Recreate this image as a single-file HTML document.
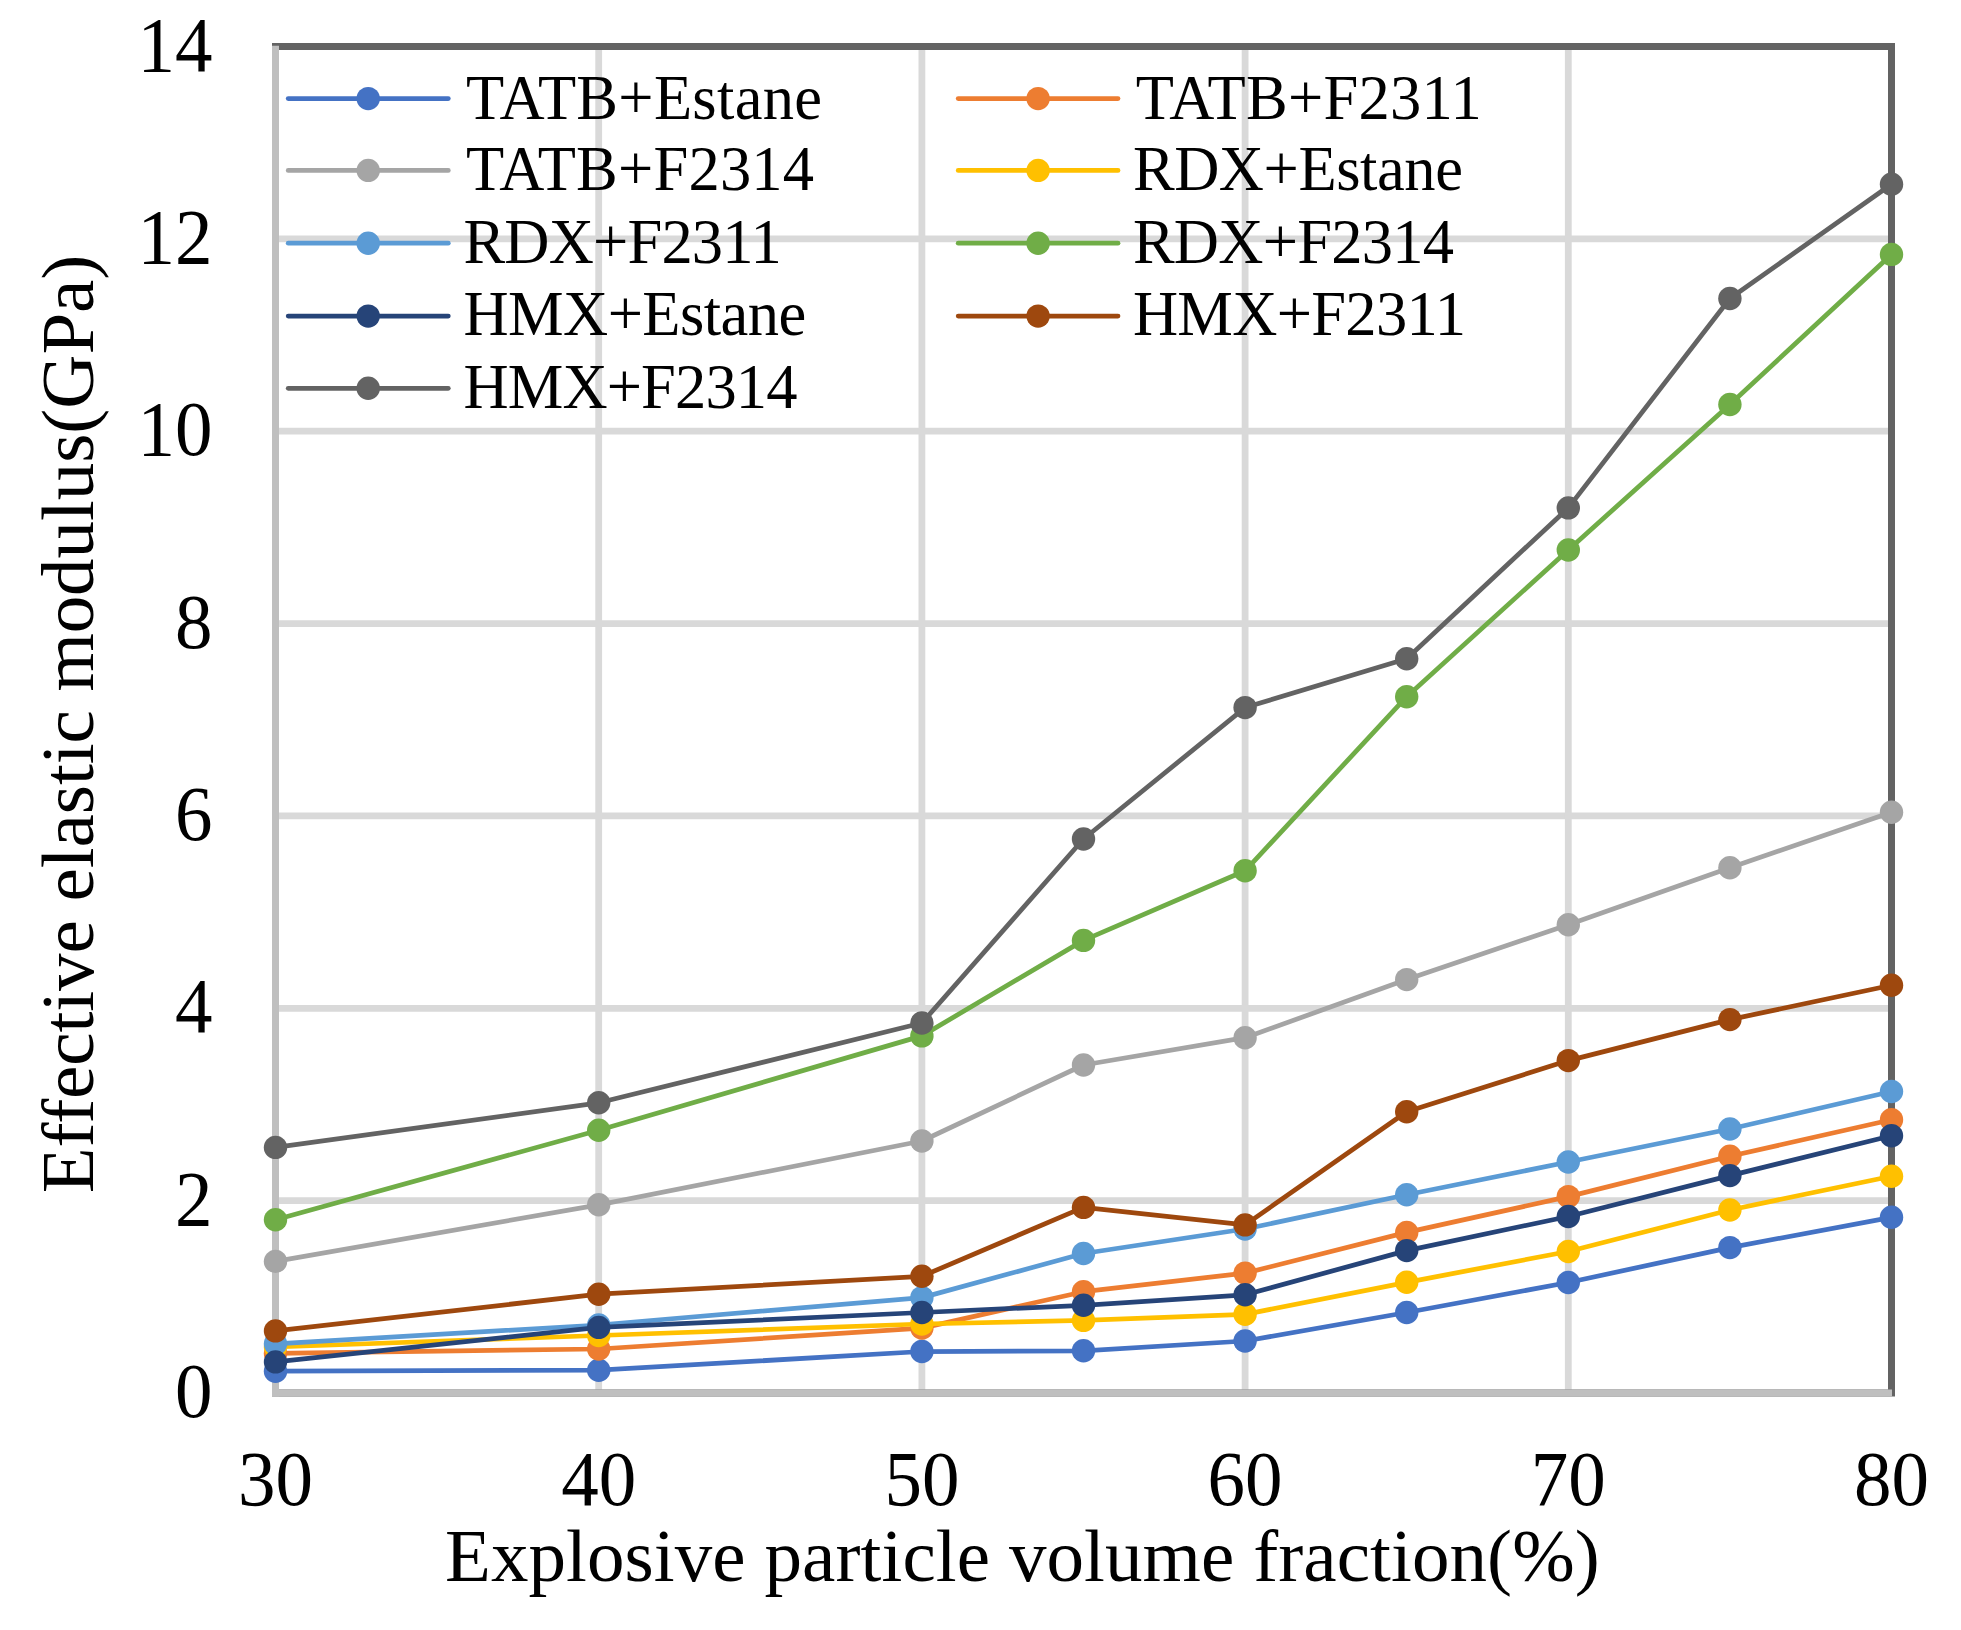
<!DOCTYPE html><html><head><meta charset="utf-8"><style>html,body{margin:0;padding:0;background:#fff;overflow:hidden}svg{display:block}text{font-family:"Liberation Serif","Times New Roman",serif;fill:#000}</style></head><body>
<svg width="1961" height="1630" viewBox="0 0 1961 1630">
<rect x="0" y="0" width="1961" height="1630" fill="#fff"/>
<line x1="275.5" y1="1200.6" x2="1891.5" y2="1200.6" stroke="#d9d9d9" stroke-width="6.8"/>
<line x1="275.5" y1="1008.3" x2="1891.5" y2="1008.3" stroke="#d9d9d9" stroke-width="6.8"/>
<line x1="275.5" y1="815.9" x2="1891.5" y2="815.9" stroke="#d9d9d9" stroke-width="6.8"/>
<line x1="275.5" y1="623.6" x2="1891.5" y2="623.6" stroke="#d9d9d9" stroke-width="6.8"/>
<line x1="275.5" y1="431.2" x2="1891.5" y2="431.2" stroke="#d9d9d9" stroke-width="6.8"/>
<line x1="275.5" y1="238.9" x2="1891.5" y2="238.9" stroke="#d9d9d9" stroke-width="6.8"/>
<line x1="598.7" y1="46.5" x2="598.7" y2="1393.0" stroke="#d9d9d9" stroke-width="6.8"/>
<line x1="921.9" y1="46.5" x2="921.9" y2="1393.0" stroke="#d9d9d9" stroke-width="6.8"/>
<line x1="1245.1" y1="46.5" x2="1245.1" y2="1393.0" stroke="#d9d9d9" stroke-width="6.8"/>
<line x1="1568.3" y1="46.5" x2="1568.3" y2="1393.0" stroke="#d9d9d9" stroke-width="6.8"/>
<rect x="275.5" y="46.5" width="1616.0" height="1346.5" fill="none" stroke="#636363" stroke-width="7"/>
<line x1="275.5" y1="45.7" x2="275.5" y2="1396.5" stroke="#bfbfbf" stroke-width="7.0"/>
<line x1="272.0" y1="1393.0" x2="1892.0" y2="1393.0" stroke="#bfbfbf" stroke-width="7.0"/>
<polyline points="275.5,1371.2 598.7,1370.2 921.9,1351.5 1083.5,1350.8 1245.1,1341.0 1406.7,1312.5 1568.3,1282.5 1729.9,1247.6 1891.5,1217.3" fill="none" stroke="#4472C4" stroke-width="4.75" stroke-linejoin="round" stroke-linecap="round"/>
<circle cx="275.5" cy="1371.2" r="11.7" fill="#4472C4"/>
<circle cx="598.7" cy="1370.2" r="11.7" fill="#4472C4"/>
<circle cx="921.9" cy="1351.5" r="11.7" fill="#4472C4"/>
<circle cx="1083.5" cy="1350.8" r="11.7" fill="#4472C4"/>
<circle cx="1245.1" cy="1341.0" r="11.7" fill="#4472C4"/>
<circle cx="1406.7" cy="1312.5" r="11.7" fill="#4472C4"/>
<circle cx="1568.3" cy="1282.5" r="11.7" fill="#4472C4"/>
<circle cx="1729.9" cy="1247.6" r="11.7" fill="#4472C4"/>
<circle cx="1891.5" cy="1217.3" r="11.7" fill="#4472C4"/>
<polyline points="275.5,1353.4 598.7,1349.0 921.9,1328.1 1083.5,1291.7 1245.1,1273.1 1406.7,1232.4 1568.3,1196.6 1729.9,1156.3 1891.5,1119.8" fill="none" stroke="#ED7D31" stroke-width="4.75" stroke-linejoin="round" stroke-linecap="round"/>
<circle cx="275.5" cy="1353.4" r="11.7" fill="#ED7D31"/>
<circle cx="598.7" cy="1349.0" r="11.7" fill="#ED7D31"/>
<circle cx="921.9" cy="1328.1" r="11.7" fill="#ED7D31"/>
<circle cx="1083.5" cy="1291.7" r="11.7" fill="#ED7D31"/>
<circle cx="1245.1" cy="1273.1" r="11.7" fill="#ED7D31"/>
<circle cx="1406.7" cy="1232.4" r="11.7" fill="#ED7D31"/>
<circle cx="1568.3" cy="1196.6" r="11.7" fill="#ED7D31"/>
<circle cx="1729.9" cy="1156.3" r="11.7" fill="#ED7D31"/>
<circle cx="1891.5" cy="1119.8" r="11.7" fill="#ED7D31"/>
<polyline points="275.5,1261.4 598.7,1204.8 921.9,1141.0 1083.5,1065.0 1245.1,1037.7 1406.7,979.6 1568.3,924.7 1729.9,867.8 1891.5,812.3" fill="none" stroke="#A5A5A5" stroke-width="4.75" stroke-linejoin="round" stroke-linecap="round"/>
<circle cx="275.5" cy="1261.4" r="11.7" fill="#A5A5A5"/>
<circle cx="598.7" cy="1204.8" r="11.7" fill="#A5A5A5"/>
<circle cx="921.9" cy="1141.0" r="11.7" fill="#A5A5A5"/>
<circle cx="1083.5" cy="1065.0" r="11.7" fill="#A5A5A5"/>
<circle cx="1245.1" cy="1037.7" r="11.7" fill="#A5A5A5"/>
<circle cx="1406.7" cy="979.6" r="11.7" fill="#A5A5A5"/>
<circle cx="1568.3" cy="924.7" r="11.7" fill="#A5A5A5"/>
<circle cx="1729.9" cy="867.8" r="11.7" fill="#A5A5A5"/>
<circle cx="1891.5" cy="812.3" r="11.7" fill="#A5A5A5"/>
<polyline points="275.5,1347.0 598.7,1335.5 921.9,1324.0 1083.5,1320.4 1245.1,1314.3 1406.7,1282.3 1568.3,1251.5 1729.9,1210.0 1891.5,1176.2" fill="none" stroke="#FFC000" stroke-width="4.75" stroke-linejoin="round" stroke-linecap="round"/>
<circle cx="275.5" cy="1347.0" r="11.7" fill="#FFC000"/>
<circle cx="598.7" cy="1335.5" r="11.7" fill="#FFC000"/>
<circle cx="921.9" cy="1324.0" r="11.7" fill="#FFC000"/>
<circle cx="1083.5" cy="1320.4" r="11.7" fill="#FFC000"/>
<circle cx="1245.1" cy="1314.3" r="11.7" fill="#FFC000"/>
<circle cx="1406.7" cy="1282.3" r="11.7" fill="#FFC000"/>
<circle cx="1568.3" cy="1251.5" r="11.7" fill="#FFC000"/>
<circle cx="1729.9" cy="1210.0" r="11.7" fill="#FFC000"/>
<circle cx="1891.5" cy="1176.2" r="11.7" fill="#FFC000"/>
<polyline points="275.5,1343.8 598.7,1325.0 921.9,1297.6 1083.5,1253.5 1245.1,1229.0 1406.7,1194.8 1568.3,1162.0 1729.9,1129.0 1891.5,1091.5" fill="none" stroke="#5B9BD5" stroke-width="4.75" stroke-linejoin="round" stroke-linecap="round"/>
<circle cx="275.5" cy="1343.8" r="11.7" fill="#5B9BD5"/>
<circle cx="598.7" cy="1325.0" r="11.7" fill="#5B9BD5"/>
<circle cx="921.9" cy="1297.6" r="11.7" fill="#5B9BD5"/>
<circle cx="1083.5" cy="1253.5" r="11.7" fill="#5B9BD5"/>
<circle cx="1245.1" cy="1229.0" r="11.7" fill="#5B9BD5"/>
<circle cx="1406.7" cy="1194.8" r="11.7" fill="#5B9BD5"/>
<circle cx="1568.3" cy="1162.0" r="11.7" fill="#5B9BD5"/>
<circle cx="1729.9" cy="1129.0" r="11.7" fill="#5B9BD5"/>
<circle cx="1891.5" cy="1091.5" r="11.7" fill="#5B9BD5"/>
<polyline points="275.5,1219.8 598.7,1130.2 921.9,1035.9 1083.5,940.4 1245.1,870.8 1406.7,696.7 1568.3,550.0 1729.9,404.5 1891.5,254.4" fill="none" stroke="#70AD47" stroke-width="4.75" stroke-linejoin="round" stroke-linecap="round"/>
<circle cx="275.5" cy="1219.8" r="11.7" fill="#70AD47"/>
<circle cx="598.7" cy="1130.2" r="11.7" fill="#70AD47"/>
<circle cx="921.9" cy="1035.9" r="11.7" fill="#70AD47"/>
<circle cx="1083.5" cy="940.4" r="11.7" fill="#70AD47"/>
<circle cx="1245.1" cy="870.8" r="11.7" fill="#70AD47"/>
<circle cx="1406.7" cy="696.7" r="11.7" fill="#70AD47"/>
<circle cx="1568.3" cy="550.0" r="11.7" fill="#70AD47"/>
<circle cx="1729.9" cy="404.5" r="11.7" fill="#70AD47"/>
<circle cx="1891.5" cy="254.4" r="11.7" fill="#70AD47"/>
<polyline points="275.5,1361.9 598.7,1327.4 921.9,1312.5 1083.5,1305.3 1245.1,1294.8 1406.7,1250.6 1568.3,1216.5 1729.9,1175.6 1891.5,1135.7" fill="none" stroke="#264478" stroke-width="4.75" stroke-linejoin="round" stroke-linecap="round"/>
<circle cx="275.5" cy="1361.9" r="11.7" fill="#264478"/>
<circle cx="598.7" cy="1327.4" r="11.7" fill="#264478"/>
<circle cx="921.9" cy="1312.5" r="11.7" fill="#264478"/>
<circle cx="1083.5" cy="1305.3" r="11.7" fill="#264478"/>
<circle cx="1245.1" cy="1294.8" r="11.7" fill="#264478"/>
<circle cx="1406.7" cy="1250.6" r="11.7" fill="#264478"/>
<circle cx="1568.3" cy="1216.5" r="11.7" fill="#264478"/>
<circle cx="1729.9" cy="1175.6" r="11.7" fill="#264478"/>
<circle cx="1891.5" cy="1135.7" r="11.7" fill="#264478"/>
<polyline points="275.5,1330.9 598.7,1294.2 921.9,1276.3 1083.5,1207.4 1245.1,1224.9 1406.7,1111.7 1568.3,1060.6 1729.9,1019.6 1891.5,985.3" fill="none" stroke="#9E480E" stroke-width="4.75" stroke-linejoin="round" stroke-linecap="round"/>
<circle cx="275.5" cy="1330.9" r="11.7" fill="#9E480E"/>
<circle cx="598.7" cy="1294.2" r="11.7" fill="#9E480E"/>
<circle cx="921.9" cy="1276.3" r="11.7" fill="#9E480E"/>
<circle cx="1083.5" cy="1207.4" r="11.7" fill="#9E480E"/>
<circle cx="1245.1" cy="1224.9" r="11.7" fill="#9E480E"/>
<circle cx="1406.7" cy="1111.7" r="11.7" fill="#9E480E"/>
<circle cx="1568.3" cy="1060.6" r="11.7" fill="#9E480E"/>
<circle cx="1729.9" cy="1019.6" r="11.7" fill="#9E480E"/>
<circle cx="1891.5" cy="985.3" r="11.7" fill="#9E480E"/>
<polyline points="275.5,1147.4 598.7,1102.8 921.9,1023.0 1083.5,839.0 1245.1,707.6 1406.7,658.7 1568.3,507.9 1729.9,298.5 1891.5,184.2" fill="none" stroke="#636363" stroke-width="4.75" stroke-linejoin="round" stroke-linecap="round"/>
<circle cx="275.5" cy="1147.4" r="11.7" fill="#636363"/>
<circle cx="598.7" cy="1102.8" r="11.7" fill="#636363"/>
<circle cx="921.9" cy="1023.0" r="11.7" fill="#636363"/>
<circle cx="1083.5" cy="839.0" r="11.7" fill="#636363"/>
<circle cx="1245.1" cy="707.6" r="11.7" fill="#636363"/>
<circle cx="1406.7" cy="658.7" r="11.7" fill="#636363"/>
<circle cx="1568.3" cy="507.9" r="11.7" fill="#636363"/>
<circle cx="1729.9" cy="298.5" r="11.7" fill="#636363"/>
<circle cx="1891.5" cy="184.2" r="11.7" fill="#636363"/>
<text transform="translate(212.5,1417.0) scale(1,1.03)" font-size="75" text-anchor="end">0</text>
<text transform="translate(212.5,1224.6) scale(1,1.03)" font-size="75" text-anchor="end">2</text>
<text transform="translate(212.5,1032.3) scale(1,1.03)" font-size="75" text-anchor="end">4</text>
<text transform="translate(212.5,839.9) scale(1,1.03)" font-size="75" text-anchor="end">6</text>
<text transform="translate(212.5,647.6) scale(1,1.03)" font-size="75" text-anchor="end">8</text>
<text transform="translate(212.5,455.2) scale(1,1.03)" font-size="75" text-anchor="end">10</text>
<text transform="translate(212.5,262.9) scale(1,1.03)" font-size="75" text-anchor="end">12</text>
<text transform="translate(212.5,70.5) scale(1,1.03)" font-size="75" text-anchor="end">14</text>
<text transform="translate(275.5,1504.8) scale(1,1.03)" font-size="75" text-anchor="middle">30</text>
<text transform="translate(598.7,1504.8) scale(1,1.03)" font-size="75" text-anchor="middle">40</text>
<text transform="translate(921.9,1504.8) scale(1,1.03)" font-size="75" text-anchor="middle">50</text>
<text transform="translate(1245.1,1504.8) scale(1,1.03)" font-size="75" text-anchor="middle">60</text>
<text transform="translate(1568.3,1504.8) scale(1,1.03)" font-size="75" text-anchor="middle">70</text>
<text transform="translate(1891.5,1504.8) scale(1,1.03)" font-size="75" text-anchor="middle">80</text>
<text x="445" y="1580.5" font-size="75" textLength="1154.7" lengthAdjust="spacing">Explosive particle volume fraction(%)</text>
<text transform="translate(93,1193.2) rotate(-90)" x="0" y="0" font-size="75" textLength="938.5" lengthAdjust="spacing">Effective elastic modulus(GPa)</text>
<line x1="288.2" y1="98.6" x2="448.3" y2="98.6" stroke="#4472C4" stroke-width="4.75" stroke-linecap="round"/>
<circle cx="368.2" cy="98.6" r="11.7" fill="#4472C4"/>
<text x="465.9" y="118.5" font-size="62.5" textLength="356.09" lengthAdjust="spacing">TATB+Estane</text>
<line x1="958.2" y1="98.6" x2="1118.0" y2="98.6" stroke="#ED7D31" stroke-width="4.75" stroke-linecap="round"/>
<circle cx="1038.1" cy="98.6" r="11.7" fill="#ED7D31"/>
<text x="1135.7" y="118.5" font-size="62.5" textLength="346.14" lengthAdjust="spacing">TATB+F2311</text>
<line x1="288.2" y1="170.4" x2="448.3" y2="170.4" stroke="#A5A5A5" stroke-width="4.75" stroke-linecap="round"/>
<circle cx="368.2" cy="170.4" r="11.7" fill="#A5A5A5"/>
<text x="465.9" y="190.2" font-size="62.5" textLength="348.17" lengthAdjust="spacing">TATB+F2314</text>
<line x1="958.2" y1="170.4" x2="1118.0" y2="170.4" stroke="#FFC000" stroke-width="4.75" stroke-linecap="round"/>
<circle cx="1038.1" cy="170.4" r="11.7" fill="#FFC000"/>
<text x="1132.9" y="190.2" font-size="62.5" textLength="330.01" lengthAdjust="spacing">RDX+Estane</text>
<line x1="288.2" y1="243.2" x2="448.3" y2="243.2" stroke="#5B9BD5" stroke-width="4.75" stroke-linecap="round"/>
<circle cx="368.2" cy="243.2" r="11.7" fill="#5B9BD5"/>
<text x="463.4" y="263.1" font-size="62.5" textLength="318.26" lengthAdjust="spacing">RDX+F2311</text>
<line x1="958.2" y1="243.2" x2="1118.0" y2="243.2" stroke="#70AD47" stroke-width="4.75" stroke-linecap="round"/>
<circle cx="1038.1" cy="243.2" r="11.7" fill="#70AD47"/>
<text x="1132.9" y="263.1" font-size="62.5" textLength="321.07" lengthAdjust="spacing">RDX+F2314</text>
<line x1="288.2" y1="316.1" x2="448.3" y2="316.1" stroke="#264478" stroke-width="4.75" stroke-linecap="round"/>
<circle cx="368.2" cy="316.1" r="11.7" fill="#264478"/>
<text x="463.4" y="334.8" font-size="62.5" textLength="342.89" lengthAdjust="spacing">HMX+Estane</text>
<line x1="958.2" y1="316.1" x2="1118.0" y2="316.1" stroke="#9E480E" stroke-width="4.75" stroke-linecap="round"/>
<circle cx="1038.1" cy="316.1" r="11.7" fill="#9E480E"/>
<text x="1132.9" y="334.8" font-size="62.5" textLength="333.05" lengthAdjust="spacing">HMX+F2311</text>
<line x1="288.2" y1="388.3" x2="448.3" y2="388.3" stroke="#636363" stroke-width="4.75" stroke-linecap="round"/>
<circle cx="368.2" cy="388.3" r="11.7" fill="#636363"/>
<text x="463.4" y="408.3" font-size="62.5" textLength="334.06" lengthAdjust="spacing">HMX+F2314</text>
</svg></body></html>
